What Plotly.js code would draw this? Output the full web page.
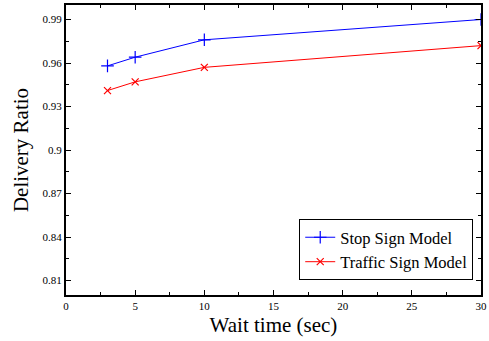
<!DOCTYPE html>
<html>
<head>
<meta charset="utf-8">
<script src="https://cdn.plot.ly/plotly-3.0.1.min.js"></script>
<style>html,body{margin:0;padding:0;background:#fff;}#chart{width:489px;height:341px;}</style>
</head>
<body>
<div id="chart"></div>
<script>
const waitTime = [3, 5, 10, 30];
const stopSign = [0.958, 0.964, 0.976, 0.990];
const trafficSign = [0.941, 0.947, 0.957, 0.972];
const seriesNames = ["Stop Sign Model", "Traffic Sign Model"];
const serif = "'Liberation Serif', 'Times New Roman', serif";

const traces = [
  {x: waitTime, y: stopSign, name: seriesNames[0], type: "scatter", mode: "lines+markers",
   line: {color: "#0000ff", width: 1}, marker: {symbol: "cross-thin", size: 9, color: "#0000ff", line: {color: "#0000ff", width: 1.2}}},
  {x: waitTime, y: trafficSign, name: seriesNames[1], type: "scatter", mode: "lines+markers",
   line: {color: "#ff0000", width: 1}, marker: {symbol: "x-thin", size: 7, color: "#ff0000", line: {color: "#ff0000", width: 1.2}}}
];

const axisCommon = {
  showgrid: false, zeroline: false, showline: true, linecolor: "#000", linewidth: 2, mirror: "allticks",
  ticks: "inside", ticklen: 5, tickwidth: 1, tickcolor: "#000",
  tickfont: {family: serif, size: 11, color: "#000"}
};

const layout = {
  width: 489, height: 341,
  margin: {l: 66, r: 8, t: 5, b: 46},
  paper_bgcolor: "#fff", plot_bgcolor: "#fff",
  showlegend: true,
  legend: {x: 0.562, y: 0.262, xanchor: "left", yanchor: "top", bordercolor: "#000", borderwidth: 1,
           bgcolor: "#fff", font: {family: serif, size: 16.5, color: "#000"}, tracegroupgap: 0, itemwidth: 30},
  xaxis: Object.assign({}, axisCommon, {range: [0, 30], tick0: 0, dtick: 5,
    minor: {ticks: "inside", ticklen: 3, tickwidth: 1, tickcolor: "#000", dtick: 2.5},
    title: {text: "Wait time (sec)", font: {family: serif, size: 21, color: "#000"}, standoff: 6}}),
  yaxis: Object.assign({}, axisCommon, {range: [0.8, 1.0], tick0: 0.81, dtick: 0.03,
    minor: {ticks: "inside", ticklen: 3, tickwidth: 1, tickcolor: "#000", tick0: 0.795, dtick: 0.015},
    title: {text: "Delivery Ratio", font: {family: serif, size: 21, color: "#000"}, standoff: 8}})
};

Plotly.newPlot("chart", traces, layout, {displayModeBar: false, staticPlot: true});
</script>
</body>
</html>
